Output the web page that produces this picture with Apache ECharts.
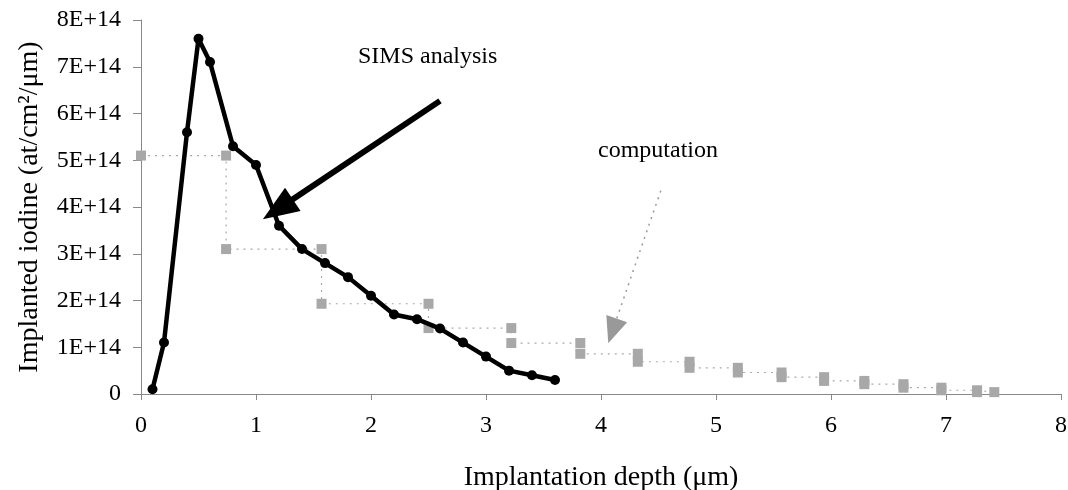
<!DOCTYPE html>
<html><head><meta charset="utf-8">
<script src="https://cdn.jsdelivr.net/npm/echarts@6/dist/echarts.min.js"></script>
<style>html,body{margin:0;padding:0;background:#fff}#c{width:1068px;height:490px}</style>
</head><body><div id="c"></div>
<script>
// SIMS analysis (depth in µm, iodine in at/cm²/µm)
const simsDepth = [0.1, 0.2, 0.4, 0.5, 0.6, 0.8, 1.0, 1.2, 1.4, 1.6, 1.8, 2.0, 2.2, 2.4, 2.6, 2.8, 3.0, 3.2, 3.4, 3.6];
const simsValue = [0.1e14, 1.1e14, 5.6e14, 7.6e14, 7.1e14, 5.3e14, 4.9e14, 3.6e14, 3.1e14, 2.8e14, 2.5e14, 2.1e14, 1.7e14, 1.6e14, 1.4e14, 1.1e14, 0.8e14, 0.5e14, 0.4e14, 0.3e14];
// computation: histogram bin edges (µm) and bin values
const compEdges = [0, 0.74, 1.57, 2.5, 3.22, 3.82, 4.32, 4.77, 5.19, 5.57, 5.94, 6.29, 6.63, 6.96, 7.27, 7.42];
const compValue = [5.1e14, 3.1e14, 1.93e14, 1.41e14, 1.09e14, 0.86e14, 0.69e14, 0.56e14, 0.46e14, 0.36e14, 0.28e14, 0.21e14, 0.135e14, 0.08e14, 0.04e14];
const yTicks = [0, 1e14, 2e14, 3e14, 4e14, 5e14, 6e14, 7e14, 8e14];

const simsData = simsDepth.map((d, i) => [d, simsValue[i]]);
const compData = [];
compValue.forEach((v, i) => { compData.push([compEdges[i], v]); compData.push([compEdges[i + 1], v]); });

const font = 'Liberation Serif';
const chart = echarts.init(document.getElementById('c'));
chart.setOption({
  animation: false,
  backgroundColor: '#fff',
  grid: { left: 141, right: 7, top: 20, bottom: 96, containLabel: false, outerBoundsMode: 'none' },
  xAxis: {
    type: 'value', min: 0, max: 8, interval: 1,
    name: 'Implantation depth (μm)', nameLocation: 'middle', nameGap: 70,
    nameTextStyle: { fontFamily: font, fontSize: 28, color: '#000' },
    axisLine: { lineStyle: { color: '#888', width: 1 } },
    axisTick: { show: true, length: 6, lineStyle: { color: '#888' } },
    axisLabel: { fontFamily: font, fontSize: 24, color: '#000', margin: 20 },
    splitLine: { show: false }
  },
  yAxis: {
    type: 'value', min: 0, max: 8e14, interval: 1e14,
    name: 'Implanted iodine (at/cm²/μm)', nameLocation: 'middle', nameGap: 97,
    nameTextStyle: { fontFamily: font, fontSize: 28, color: '#000' },
    axisLine: { show: true, lineStyle: { color: '#888', width: 1 } },
    axisTick: { show: true, length: 8, lineStyle: { color: '#888' } },
    axisLabel: { fontFamily: font, fontSize: 24, color: '#000', margin: 20,
      formatter: v => v === 0 ? '0' : (Math.round(v / 1e14) + 'E+14') },
    splitLine: { show: false }
  },
  series: [
    {
      name: 'computation', type: 'line', data: compData, z: 2,
      symbol: 'rect', symbolSize: 10, showSymbol: true,
      itemStyle: { color: '#a8a8a8' },
      lineStyle: { color: '#aaa', width: 1.2, type: [2, 5] },
      markLine: {
        silent: true, symbol: ['none', 'triangle'], symbolSize: [22, 26],
        label: { show: false },
        lineStyle: { color: '#999', width: 1.5, type: [2, 5] },
        data: [[{ coord: [4.52, 4.35e14] }, { coord: [4.1, 1.35e14] }]]
      }
    },
    {
      name: 'SIMS analysis', type: 'line', data: simsData, z: 3,
      symbol: 'circle', symbolSize: 10,
      itemStyle: { color: '#000' },
      lineStyle: { color: '#000', width: 4.5 },
      markLine: {
        silent: true, symbol: ['none', 'triangle'], symbolSize: [28, 36],
        label: { show: false },
        lineStyle: { color: '#000', width: 6, type: 'solid' },
        data: [[{ coord: [2.6, 6.27e14] }, { coord: [1.19, 3.95e14] }]]
      }
    }
  ],
  graphic: [
    { type: 'text', left: 358, top: 45, style: { text: 'SIMS analysis', font: '24px "Liberation Serif"', fill: '#000' } },
    { type: 'text', left: 598, top: 139, style: { text: 'computation', font: '24px "Liberation Serif"', fill: '#000' } }
  ]
});
</script></body></html>
